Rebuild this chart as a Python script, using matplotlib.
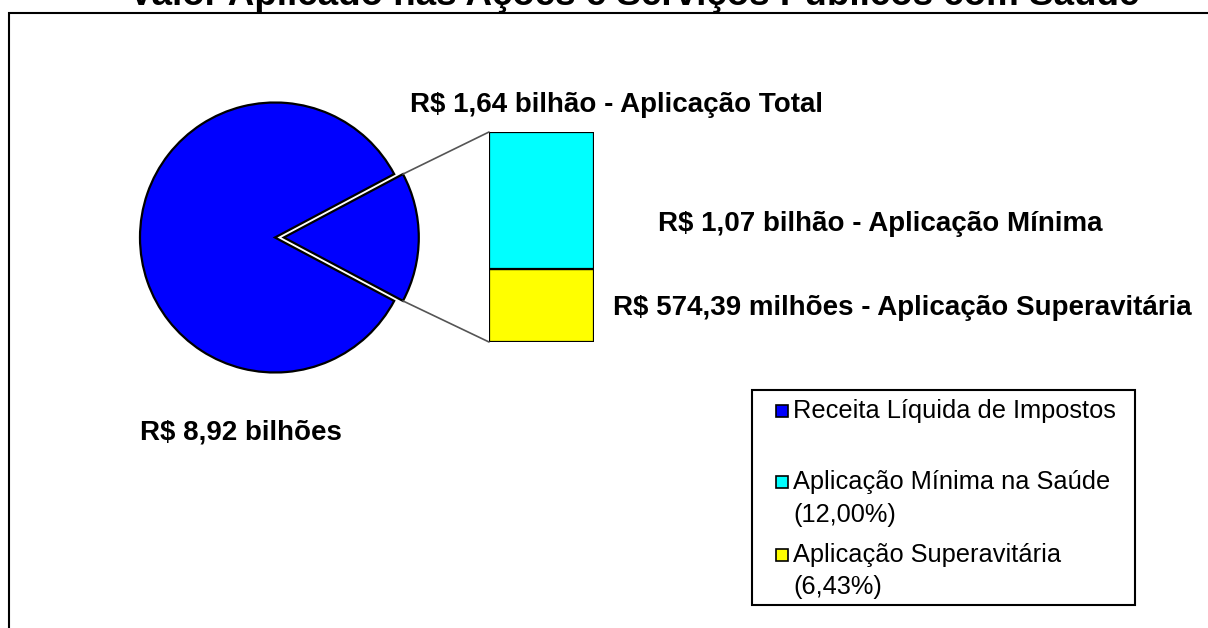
import numpy as np
import matplotlib.pyplot as plt
from matplotlib.patches import Rectangle, ConnectionPatch

plt.rcParams['font.family'] = ['Liberation Sans', 'DejaVu Sans']

# values (R$ bilhoes)
receita = 8.92
aplic_minima = 1.07
aplic_superavit = 0.57439
aplic_total = aplic_minima + aplic_superavit

pie_values = [aplic_total, receita]
bar_values = [aplic_superavit, aplic_minima]
bar_colors = ['#FFFF00', '#00FFFF']

title = 'Valor Aplicado nas Ações e Serviços Públicos com Saúde'
label_total = 'R$ 1,64 bilhão - Aplicação Total'
label_minima = 'R$ 1,07 bilhão - Aplicação Mínima'
label_superavit = 'R$ 574,39 milhões - Aplicação Superavitária'
label_receita = 'R$ 8,92 bilhões'
legend_labels = [['Receita Líquida de Impostos'],
                 ['Aplicação Mínima na Saúde', '(12,00%)'],
                 ['Aplicação Superavitária', '(6,43%)']]
legend_colors = ['#0000FF', '#00FFFF', '#FFFF00']

W, H = 1208, 628


def fx(px):
    return px / W


def fy(py):
    return 1 - py / H


fig = plt.figure(figsize=(W / 100, H / 100), dpi=100)

# chart border
fig.patches.append(Rectangle((fx(8.5), -0.02), 1.05, fy(13) + 0.02, transform=fig.transFigure,
                             fill=False, edgecolor='black', linewidth=1.5, clip_on=False))

fig.text(fx(634), fy(5), title, ha='center', va='baseline', fontsize=26.5, fontweight='bold')

# pie
R = 135
cx, cy = 275, 237.5
ax_pie = fig.add_axes([fx(cx - R), fy(cy + R), 2 * R / W, 2 * R / H])
angle = 360 * pie_values[0] / sum(pie_values)
wedges, _ = ax_pie.pie(pie_values, colors=['#0000FF', '#0000FF'], startangle=-angle / 2,
                       explode=[0.065, 0], wedgeprops=dict(edgecolor='black', linewidth=1.6))
ax_pie.set_xlim(-1, 1)
ax_pie.set_ylim(-1, 1)
ax_pie.set_aspect('equal')
ax_pie.axis('off')

# stacked bar
ax_bar = fig.add_axes([fx(489), fy(342), (594 - 489) / W, (342 - 132) / H])
bottom = 0
for v, c in zip(bar_values, bar_colors):
    ax_bar.bar(0, v, width=1, bottom=bottom, color=c, edgecolor='black', linewidth=1.6)
    bottom += v
ax_bar.set_xlim(-0.5, 0.5)
ax_bar.set_ylim(0, aplic_total)
ax_bar.axis('off')

# connector lines
w = wedges[0]
for theta, ytop in [(w.theta2, aplic_total), (w.theta1, 0)]:
    x = w.center[0] + w.r * np.cos(np.radians(theta))
    y = w.center[1] + w.r * np.sin(np.radians(theta))
    con = ConnectionPatch(xyA=(-0.5, ytop), coordsA=ax_bar.transData,
                          xyB=(x, y), coordsB=ax_pie.transData,
                          color='#555555', linewidth=1.2)
    fig.add_artist(con)

# labels
fig.text(fx(410), fy(105), label_total, ha='left', va='center', fontsize=20, fontweight='bold')
fig.text(fx(658), fy(224), label_minima, ha='left', va='center', fontsize=20, fontweight='bold')
fig.text(fx(613), fy(308), label_superavit, ha='left', va='center', fontsize=20, fontweight='bold')
fig.text(fx(140), fy(432), label_receita, ha='left', va='center', fontsize=20, fontweight='bold')

# legend
fig.patches.append(Rectangle((fx(752), fy(605)), (1135 - 752) / W, (605 - 390) / H,
                             transform=fig.transFigure, fill=False, edgecolor='black',
                             linewidth=1.5))
rows = [[411], [482, 515], [555, 587]]
for lines, ys, c in zip(legend_labels, rows, legend_colors):
    s = 12
    fig.patches.append(Rectangle((fx(776), fy(ys[0] + s / 2)), s / W, s / H,
                                 transform=fig.transFigure, facecolor=c,
                                 edgecolor='black', linewidth=1.2))
    for line, yy in zip(lines, ys):
        fig.text(fx(793), fy(yy), line, ha='left', va='center', fontsize=18.3)

fig.savefig('out.png', dpi=100)
